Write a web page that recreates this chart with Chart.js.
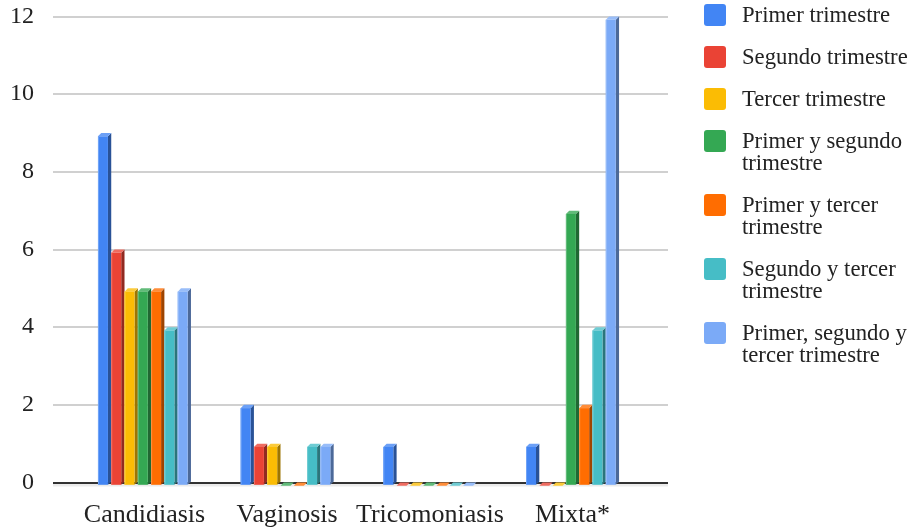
<!DOCTYPE html>
<html>
<head>
<meta charset="utf-8">
<script src="https://cdn.jsdelivr.net/npm/chart.js@4/dist/chart.umd.min.js"></script>
<style>
  html, body { margin: 0; padding: 0; background: #fff; }
  #wrap { position: relative; width: 913px; height: 531px; overflow: hidden; }
  #chart { position: absolute; left: 0; top: 0; }
  #legend {
    position: absolute; left: 704px; top: 4px;
    display: flex; flex-direction: column; gap: 20px;
    font-family: "Liberation Serif", "Times New Roman", serif;
    font-size: 22.7px; line-height: 22px; color: #222;
  }
  .item { display: flex; align-items: flex-start; }
  .box { width: 22px; height: 22px; border-radius: 3px; flex: 0 0 22px; margin-right: 16px; }
  .txt { white-space: pre; }
</style>
</head>
<body>
<div id="wrap">
  <canvas id="chart" width="913" height="531"></canvas>
  <div id="legend"></div>
</div>
<script>
// Infection types on the x axis
const categories = ['Candidiasis', 'Vaginosis', 'Tricomoniasis', 'Mixta*'];

// Series: trimester(s) in which the infection was present
const seriesNames = [
  'Primer trimestre',
  'Segundo trimestre',
  'Tercer trimestre',
  'Primer y segundo\ntrimestre',
  'Primer y tercer\ntrimestre',
  'Segundo y tercer\ntrimestre',
  'Primer, segundo y\ntercer trimestre'
];

const primerTrimestre        = [9, 2, 1, 1];
const segundoTrimestre       = [6, 1, 0, 0];
const tercerTrimestre        = [5, 1, 0, 0];
const primerYSegundo         = [5, 0, 0, 7];
const primerYTercer          = [5, 0, 0, 2];
const segundoYTercer         = [4, 1, 0, 4];
const primerSegundoYTercer   = [5, 1, 0, 12];

const seriesValues = [
  primerTrimestre, segundoTrimestre, tercerTrimestre,
  primerYSegundo, primerYTercer, segundoYTercer, primerSegundoYTercer
];

const yTicks = [0, 2, 4, 6, 8, 10, 12];

const palette = ['#4285F4', '#EA4335', '#FBBC04', '#34A853', '#FF6D01', '#46BDC6', '#7BAAF7'];

function shade(hex, f) {
  const n = parseInt(hex.slice(1), 16);
  let r = (n >> 16) & 255, g = (n >> 8) & 255, b = n & 255;
  if (f < 0) { r *= 1 + f; g *= 1 + f; b *= 1 + f; }
  else { r += (255 - r) * f; g += (255 - g) * f; b += (255 - b) * f; }
  return `rgb(${Math.round(r)},${Math.round(g)},${Math.round(b)})`;
}

// Extruded look for the columns: front face, lighter top, darker side
const DEPTH = 3.3;
const bar3d = {
  id: 'bar3d',
  beforeDatasetDraw() { return false; },
  afterDatasetsDraw(chart) {
    const ctx = chart.ctx;
    const area = chart.chartArea;
    ctx.save();
    ctx.beginPath();
    ctx.rect(area.left, 0, area.right - area.left, chart.height);
    ctx.clip();
    chart.data.datasets.forEach((ds, di) => {
      const meta = chart.getDatasetMeta(di);
      const col = palette[di];
      meta.data.forEach(el => {
        const { x, y, base, width } = el.getProps(['x', 'y', 'base', 'width'], true);
        const off = DEPTH / 2;
        const x0 = x - width / 2 - off, x1 = x + width / 2 - off;
        const yTop = y + DEPTH, yBot = base + DEPTH;
        // side
        ctx.fillStyle = shade(col, -0.38);
        ctx.beginPath();
        ctx.moveTo(x1, yTop); ctx.lineTo(x1 + DEPTH, yTop - DEPTH);
        ctx.lineTo(x1 + DEPTH, yBot - DEPTH); ctx.lineTo(x1, yBot);
        ctx.closePath(); ctx.fill();
        // top
        ctx.fillStyle = shade(col, 0.22);
        ctx.beginPath();
        ctx.moveTo(x0, yTop); ctx.lineTo(x0 + DEPTH, yTop - DEPTH);
        ctx.lineTo(x1 + DEPTH, yTop - DEPTH); ctx.lineTo(x1, yTop);
        ctx.closePath(); ctx.fill();
        // front
        if (yBot - yTop > 0) {
          ctx.fillStyle = col;
          ctx.fillRect(x0, yTop, x1 - x0, yBot - yTop);
          ctx.fillStyle = shade(col, 0.25);
          ctx.fillRect(x0, yTop, 1, yBot - yTop);
        }
      });
    });
    ctx.restore();
  },
  beforeDatasetsDraw(chart) {
    // soft shadow under the zero line
    const ctx = chart.ctx, a = chart.chartArea;
    const y0 = chart.scales.y.getPixelForValue(0);
    ctx.save();
    ctx.fillStyle = 'rgba(0,0,0,0.08)';
    ctx.fillRect(a.left, y0 + 1, a.right - a.left, 3);
    ctx.restore();
  }
};

const datasets = seriesValues.map((vals, i) => ({
  label: seriesNames[i].replace('\n', ' '),
  data: vals.map((v, j) => ({ x: j, y: v })),
  backgroundColor: palette[i],
  borderWidth: 0
}));

const serif = '"Liberation Serif", "Times New Roman", serif';

new Chart(document.getElementById('chart'), {
  type: 'bar',
  data: { datasets },
  plugins: [bar3d],
  options: {
    responsive: false,
    animation: false,
    layout: { padding: { top: 16.5, right: 245, left: 0, bottom: 0 } },
    categoryPercentage: 0.652,
    barPercentage: 0.75,
    plugins: { legend: { display: false }, tooltip: { enabled: false } },
    scales: {
      x: {
        type: 'linear',
        offset: false,
        min: -0.641,
        max: 3.669,
        grid: { display: false, offset: false },
        border: { display: false },
        afterFit(s) { s.height = 48.5; s.paddingLeft = 0; s.paddingRight = 0; },
        ticks: {
          stepSize: 1,
          includeBounds: false,
          autoSkip: false,
          maxRotation: 0,
          padding: 9,
          color: '#222',
          font: { family: serif, size: 26 },
          callback: v => categories[v] ?? ''
        }
      },
      y: {
        min: 0,
        max: 12,
        afterFit(s) { s.width = 53; s.paddingTop = 0; s.paddingBottom = 0; },
        afterBuildTicks(s) { s.ticks = yTicks.map(v => ({ value: v })); },
        border: { display: false },
        grid: {
          drawTicks: false,
          color: c => c.tick.value === 0 ? '#333' : '#d0d0d0',
          lineWidth: 2
        },
        ticks: {
          padding: 19,
          color: '#222',
          font: { family: serif, size: 24 }
        }
      }
    }
  }
});

// Legend
const legend = document.getElementById('legend');
seriesNames.forEach((name, i) => {
  const item = document.createElement('div');
  item.className = 'item';
  const box = document.createElement('div');
  box.className = 'box';
  box.style.background = palette[i];
  const txt = document.createElement('div');
  txt.className = 'txt';
  txt.textContent = name;
  item.appendChild(box);
  item.appendChild(txt);
  legend.appendChild(item);
});
</script>
</body>
</html>
